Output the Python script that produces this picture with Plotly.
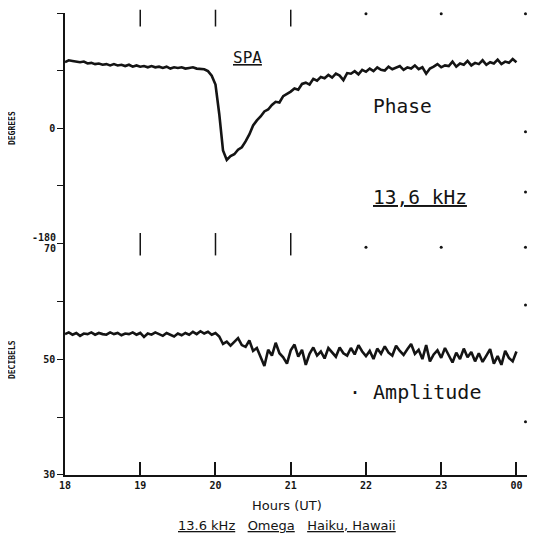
import plotly.graph_objects as go

# ---------------- data ----------------
start_hour = 18.0
step_hours = 0.05  # sampling step of the read-off traces

phase_deg = [
    103, 106, 105, 104, 103, 104, 101, 102, 100, 101,
    99, 100, 98, 100, 98, 99, 97, 99, 96, 98,
    96, 97, 95, 97, 95, 96, 94, 96, 93, 95,
    94, 95, 93, 94, 95, 93, 93, 92, 89,
    82, 68, 22, -35, -50, -44, -41, -34, -30, -21, -10,
    4, 12, 18, 26, 29, 36, 41, 40, 50, 53,
    57, 62, 60, 69, 71, 68, 77, 74, 80, 78,
    83, 79, 85, 82, 75, 86, 85, 89, 84, 91,
    88, 93, 89, 95, 91, 90, 96, 92, 94, 97,
    91, 95, 93, 98, 92, 95, 85, 93, 96, 100,
    95, 98, 97, 104, 96, 101, 99, 105, 98, 102,
    100, 106, 99, 103, 101, 107, 100, 104, 102, 108,
    103,
]

amplitude_db = [
    54.3, 54.6, 54.2, 54.5, 54.0, 54.4, 54.3, 54.6, 54.2, 54.5,
    54.3, 54.2, 54.6, 54.3, 54.5, 54.1, 54.4, 54.3, 54.6, 54.2,
    54.5, 53.8, 54.4, 54.2, 54.6, 54.3, 54.0, 54.5, 54.2, 53.9,
    54.4, 54.1, 54.5, 54.2, 54.7, 54.3, 54.8, 54.4, 54.7, 54.2,
    54.5, 53.9, 52.6, 53.0, 52.3, 52.9, 53.6, 52.4, 52.1, 53.2,
    51.4, 51.9, 50.2, 48.8, 51.6, 50.6, 52.8, 51.0, 50.3, 49.2,
    51.5, 52.5, 50.4, 51.6, 49.0, 50.9, 52.0, 50.6, 51.3, 50.1,
    51.9, 51.2, 50.4, 52.0, 51.0, 50.6, 51.9, 50.8, 52.4, 51.3,
    50.5, 51.4, 50.0, 51.8, 50.9, 52.2, 51.1, 50.6, 52.3, 51.4,
    50.7, 51.7, 52.6, 50.9, 51.6, 50.0, 52.4, 49.6, 50.8, 51.5,
    50.2, 51.9, 50.6, 49.4, 51.1, 50.0, 51.8, 50.3, 51.2, 49.6,
    51.0, 49.5, 50.6, 51.7, 49.2, 50.5, 49.0, 51.4, 50.2, 49.6,
    51.3,
]

hours = [start_hour + i * step_hours for i in range(len(phase_deg))]

x_tick_vals = [18, 19, 20, 21, 22, 23, 24]
x_tick_text = ["18", "19", "20", "21", "22", "23", "00"]

phase_tick_vals = [180, 90, 0, -90, -180]
phase_tick_text = ["180", "", "0", "", ""]
amp_tick_vals = [70, 60, 50, 40, 30]
amp_tick_text = ["", "", "50", "", "30"]

# frame decorations seen on the original record
frame_tick_hours = [19, 20, 21]
frame_dot_hours = [22, 23, 24.12]
right_dot_hour = 24.12
right_dots_phase = [-6, -100]
right_dots_amp = [59.3, 39.2]

INK = "#141414"
MONO = "DejaVu Sans Mono"

fig = go.Figure()

fig.add_trace(go.Scatter(x=hours, y=phase_deg, xaxis="x2", yaxis="y2", mode="lines",
                         line=dict(color=INK, width=2.6), hoverinfo="skip"))
fig.add_trace(go.Scatter(x=hours, y=amplitude_db, xaxis="x", yaxis="y", mode="lines",
                         line=dict(color=INK, width=2.6), hoverinfo="skip"))

# top frame tick marks
fig.add_trace(go.Scatter(x=frame_tick_hours, y=[172] * len(frame_tick_hours), xaxis="x2", yaxis="y2",
                         mode="markers", cliponaxis=False,
                         marker=dict(symbol="line-ns", size=12, line=dict(color=INK, width=1.5))))
# boundary tick marks
fig.add_trace(go.Scatter(x=frame_tick_hours, y=[69.8] * len(frame_tick_hours), xaxis="x", yaxis="y",
                         mode="markers", cliponaxis=False,
                         marker=dict(symbol="line-ns", size=16, line=dict(color=INK, width=1.5))))
# dots
fig.add_trace(go.Scatter(x=frame_dot_hours, y=[179] * len(frame_dot_hours), xaxis="x2", yaxis="y2",
                         mode="markers", cliponaxis=False, marker=dict(size=3, color=INK)))
fig.add_trace(go.Scatter(x=frame_dot_hours, y=[69.3] * len(frame_dot_hours), xaxis="x", yaxis="y",
                         mode="markers", cliponaxis=False, marker=dict(size=3, color=INK)))
fig.add_trace(go.Scatter(x=[right_dot_hour] * 2, y=right_dots_phase, xaxis="x2", yaxis="y2",
                         mode="markers", cliponaxis=False, marker=dict(size=3, color=INK)))
fig.add_trace(go.Scatter(x=[right_dot_hour] * 2, y=right_dots_amp, xaxis="x", yaxis="y",
                         mode="markers", cliponaxis=False, marker=dict(size=3, color=INK)))

tickfont = dict(family=MONO, size=10, color=INK, weight="bold")

# page body has an 8px default margin, so the figure is sized/offset to compensate
fig.update_layout(
    width=527, height=538,
    margin=dict(l=57, r=5, t=5, b=71),
    paper_bgcolor="white", plot_bgcolor="white",
    showlegend=False,
    xaxis=dict(domain=[0, 1], range=[18, 24.18], anchor="y",
               tickvals=x_tick_vals, ticktext=x_tick_text, ticks="inside", ticklen=13,
               tickwidth=1.5, tickcolor=INK, showline=True, linecolor=INK, linewidth=1.5,
               showgrid=False, zeroline=False, tickfont=tickfont),
    xaxis2=dict(domain=[0, 1], range=[18, 24.18], anchor="y2", visible=False),
    yaxis=dict(domain=[0, 0.502], range=[30, 70], anchor="x",
               tickvals=amp_tick_vals, ticktext=amp_tick_text, ticks="outside", ticklen=6,
               tickwidth=1.3, tickcolor=INK, showline=True, linecolor=INK, linewidth=1.5,
               showgrid=False, zeroline=False, tickfont=tickfont),
    yaxis2=dict(domain=[0.502, 1], range=[-180, 180], anchor="x2",
                tickvals=phase_tick_vals, ticktext=phase_tick_text, ticks="outside", ticklen=6,
                tickwidth=1.3, tickcolor=INK, showline=True, linecolor=INK, linewidth=1.5,
                showgrid=False, zeroline=False, tickfont=tickfont),
)

ann = []
# boundary tick labels
ann.append(dict(text="-180", xref="paper", yref="y2", x=0, y=-180, xanchor="right", yanchor="middle",
                xshift=-7, yshift=6, showarrow=False, font=tickfont))
ann.append(dict(text="70", xref="paper", yref="y", x=0, y=70, xanchor="right", yanchor="middle",
                xshift=-7, yshift=-5, showarrow=False, font=tickfont))
# axis titles
ann.append(dict(text="DEGREES", xref="paper", yref="y2", x=-0.128, y=0, textangle=-90,
                showarrow=False, font=dict(family=MONO, size=8, color=INK, weight="bold")))
ann.append(dict(text="DECIBELS", xref="paper", yref="y", x=-0.128, y=50, textangle=-90,
                showarrow=False, font=dict(family=MONO, size=8, color=INK, weight="bold")))
ann.append(dict(text="Hours (UT)", xref="paper", yref="paper", x=0.477, y=-0.087,
                showarrow=False, font=dict(family="DejaVu Sans", size=13, color=INK)))
ann.append(dict(text="<u>13.6 kHz</u>   <u>Omega</u>   <u>Haiku, Hawaii</u>", xref="paper", yref="paper",
                x=0.477, y=-0.13, showarrow=False,
                font=dict(family="DejaVu Sans", size=13, color=INK)))
# in-plot labels
ann.append(dict(text="<u>SPA</u>", xref="x2", yref="y2", x=20.42, y=111, showarrow=False,
                font=dict(family=MONO, size=16, color=INK)))
ann.append(dict(text="Phase", xref="x2", yref="y2", x=22.48, y=33, showarrow=False,
                font=dict(family=MONO, size=19.5, color=INK)))
ann.append(dict(text="<u>13,6 kHz</u>", xref="x2", yref="y2", x=22.72, y=-108, showarrow=False,
                font=dict(family=MONO, size=19.5, color=INK)))
ann.append(dict(text="· Amplitude", xref="x", yref="y", x=22.65, y=44.3, showarrow=False,
                font=dict(family=MONO, size=20, color=INK)))
fig.update_layout(annotations=ann)

fig.write_html("out.html")
